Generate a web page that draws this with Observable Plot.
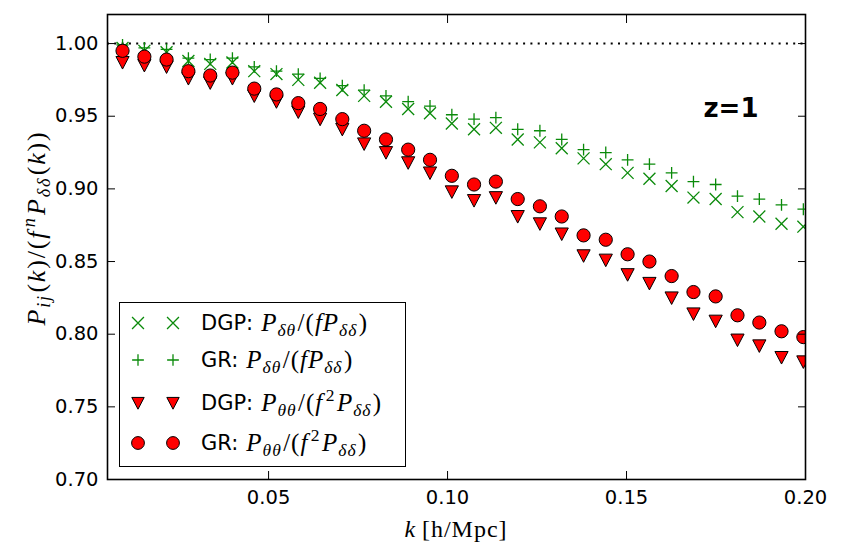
<!DOCTYPE html>
<html>
<head>
<meta charset="utf-8">
<script src="https://cdn.jsdelivr.net/npm/d3@7"></script>
<script src="https://cdn.jsdelivr.net/npm/@observablehq/plot@0.6"></script>
<style>
  body { margin: 0; background: #fff; }
  #wrap { position: relative; width: 843px; height: 559px; overflow: hidden; }
  .math { font-family: "Liberation Serif", "DejaVu Serif", serif; }
  .math sub, .math sup { font-size: 0.7em; line-height: 0; }
  .math sub { vertical-align: -0.3em; margin-right: 0.08em; }
  .math sup { vertical-align: 0.55em; margin-left: 0.14em; margin-right: 0.08em; }
  #ylabel { position: absolute; left: 37px; top: 228px; transform: translate(-50%, -50%) rotate(-90deg); white-space: nowrap; font-size: 26px; letter-spacing: 1.8px; }
  #xlabel { position: absolute; left: 456px; top: 529px; transform: translate(-50%, -50%); white-space: nowrap; font-size: 24px; letter-spacing: 1px; }
  #legend { position: absolute; left: 119px; top: 302px; width: 285px; height: 163px; border: 1.5px solid #000; background: #fff; box-sizing: content-box; }
  .row { position: absolute; left: 0; height: 30px; display: flex; align-items: center; white-space: nowrap; }
  .row svg { width: 72px; height: 30px; flex: none; }
  .row .name { font-family: "DejaVu Sans", sans-serif; font-size: 21px; margin-left: 9px; }
  .row .math { font-size: 25px; margin-left: 8px; letter-spacing: 1px; }
</style>
</head>
<body>
<div id="wrap"></div>
<script>
// Wavenumbers of the measured bins, k in h/Mpc
const k = [0.0092, 0.0153, 0.0215, 0.0276, 0.0337, 0.0399, 0.0460, 0.0522, 0.0583, 0.0644,
           0.0706, 0.0767, 0.0828, 0.0890, 0.0951, 0.1012, 0.1074, 0.1135, 0.1196, 0.1258,
           0.1319, 0.1380, 0.1442, 0.1503, 0.1564, 0.1626, 0.1687, 0.1749, 0.1810, 0.1871,
           0.1933, 0.1994];

// DGP: P_δθ / (f P_δδ)
const dgpDeltaTheta = [0.997, 0.995, 0.994, 0.988, 0.986, 0.987, 0.981, 0.979, 0.975, 0.973,
                       0.968, 0.964, 0.960, 0.955, 0.952, 0.945, 0.941, 0.942, 0.934, 0.932,
                       0.928, 0.921, 0.917, 0.911, 0.907, 0.902, 0.894, 0.893, 0.884, 0.881,
                       0.876, 0.874];
// GR: P_δθ / (f P_δδ)
const grDeltaTheta = [0.999, 0.997, 0.996, 0.990, 0.989, 0.990, 0.984, 0.981, 0.979, 0.976,
                      0.971, 0.968, 0.964, 0.960, 0.957, 0.951, 0.948, 0.949, 0.941, 0.940,
                      0.934, 0.927, 0.925, 0.920, 0.917, 0.911, 0.905, 0.903, 0.895, 0.893,
                      0.889, 0.886];
// DGP: P_θθ / (f² P_δδ)
const dgpThetaTheta = [0.987, 0.985, 0.984, 0.976, 0.973, 0.976, 0.964, 0.960, 0.953, 0.948,
                       0.941, 0.931, 0.925, 0.918, 0.911, 0.898, 0.892, 0.894, 0.881, 0.876,
                       0.869, 0.854, 0.851, 0.841, 0.835, 0.825, 0.814, 0.809, 0.796, 0.792,
                       0.784, 0.781];
// GR: P_θθ / (f² P_δδ)
const grThetaTheta = [0.995, 0.991, 0.989, 0.981, 0.978, 0.980, 0.969, 0.965, 0.959, 0.955,
                      0.948, 0.940, 0.934, 0.927, 0.920, 0.909, 0.903, 0.905, 0.893, 0.888,
                      0.881, 0.868, 0.865, 0.855, 0.850, 0.840, 0.829, 0.826, 0.813, 0.808,
                      0.802, 0.798];

const xTicks = [0.05, 0.10, 0.15, 0.20];
const yTicks = [0.70, 0.75, 0.80, 0.85, 0.90, 0.95, 1.00];
const unity = [1.0];

const green = "#0a8a0a";
const red = "#ff0000";

// Downward-pointing triangle, sized like Plot's own symbols (size = π r²)
const triangleDown = {
  draw(context, size) {
    const s = Math.sqrt(size / Math.PI);
    context.moveTo(0, s);
    context.lineTo(-s, -0.9 * s);
    context.lineTo(s, -0.9 * s);
    context.closePath();
  }
};

const rows = (values) => k.map((kk, i) => ({k: kk, v: values[i]}));

const font = {fontFamily: "DejaVu Sans, sans-serif", fontSize: 19.5};
const fmt = d3.format(".2f");

const chart = Plot.plot({
  width: 843,
  height: 559,
  marginLeft: 107,
  marginRight: 38,
  marginTop: 14,
  marginBottom: 80,
  style: {fontFamily: "DejaVu Sans, sans-serif", background: "#fff", color: "#000"},
  x: {domain: [0.005, 0.20]},
  y: {domain: [0.70, 1.02]},
  marks: [
    Plot.ruleY(unity, {stroke: "#000", strokeWidth: 2, strokeDasharray: "2,5.3"}),
    Plot.dot(rows(dgpDeltaTheta), {x: "k", y: "v", symbol: "times", r: 5.5, stroke: green, strokeWidth: 1.3, clip: true}),
    Plot.dot(rows(grDeltaTheta), {x: "k", y: "v", symbol: "plus", r: 3.9, stroke: green, strokeWidth: 1.3, clip: true}),
    Plot.dot(rows(dgpThetaTheta), {x: "k", y: "v", symbol: triangleDown, r: 6.6, fill: red, stroke: "#000", strokeWidth: 1, clip: true}),
    Plot.dot(rows(grThetaTheta), {x: "k", y: "v", symbol: "circle", r: 6.6, fill: red, stroke: "#000", strokeWidth: 1, clip: true}),
    Plot.text(["z=1"], {frameAnchor: "top-right", dx: -47, dy: 84, lineAnchor: "top", textAnchor: "end",
                        fontSize: 26, fontWeight: "bold", fontFamily: "DejaVu Sans, sans-serif", fill: "#000"}),
    // tick labels
    Plot.axisX(xTicks, {anchor: "bottom", tickSize: 0, tickPadding: 11, tickFormat: fmt, label: null, ...font}),
    Plot.axisY(yTicks, {anchor: "left", tickSize: 0, tickPadding: 9, tickFormat: fmt, label: null, ...font}),
    // inward ticks on all four sides
    Plot.axisX(xTicks, {anchor: "bottom", tickSize: 8, dy: -8, text: null, label: null, strokeWidth: 1}),
    Plot.axisX(xTicks, {anchor: "top", tickSize: 8, dy: 8, text: null, label: null, strokeWidth: 1}),
    Plot.axisY(yTicks, {anchor: "left", tickSize: 8, dx: 8, text: null, label: null, strokeWidth: 1}),
    Plot.axisY(yTicks, {anchor: "right", tickSize: 8, dx: -8, text: null, label: null, strokeWidth: 1}),
    Plot.frame({stroke: "#000", strokeWidth: 1.6})
  ]
});

const wrap = document.getElementById("wrap");
wrap.appendChild(chart);

// Axis titles
const ylab = document.createElement("div");
ylab.id = "ylabel";
ylab.className = "math";
ylab.innerHTML = "<i>P</i><sub><i>ij</i></sub>(<i>k</i>)/(<i>f</i><sup><i>n</i></sup><i>P</i><sub><i>δδ</i></sub>(<i>k</i>))";
wrap.appendChild(ylab);

const xlab = document.createElement("div");
xlab.id = "xlabel";
xlab.className = "math";
xlab.innerHTML = "<i>k</i>&#8201;[h/Mpc]";
wrap.appendChild(xlab);

// Legend
const legendEntries = [
  {name: "DGP:", math: "<i>P</i><sub><i>δθ</i></sub>/(<i>fP</i><sub><i>δδ</i></sub>)", symbol: d3.symbolTimes, size: 94, fill: "none", stroke: green, sw: 1.3, top: 5},
  {name: "GR:", math: "<i>P</i><sub><i>δθ</i></sub>/(<i>fP</i><sub><i>δδ</i></sub>)", symbol: d3.symbolPlus, size: 47, fill: "none", stroke: green, sw: 1.3, top: 42},
  {name: "DGP:", math: "<i>P</i><sub><i>θθ</i></sub>/(<i>f</i><sup>2</sup><i>P</i><sub><i>δδ</i></sub>)", symbol: triangleDown, size: Math.PI * 6.2 * 6.2, fill: red, stroke: "#000", sw: 1, top: 85},
  {name: "GR:", math: "<i>P</i><sub><i>θθ</i></sub>/(<i>f</i><sup>2</sup><i>P</i><sub><i>δδ</i></sub>)", symbol: d3.symbolCircle, size: Math.PI * 6.4 * 6.4, fill: red, stroke: "#000", sw: 1, top: 125}
];
const legend = document.createElement("div");
legend.id = "legend";
for (const e of legendEntries) {
  const row = document.createElement("div");
  row.className = "row";
  row.style.top = e.top + "px";
  const path = d3.symbol(e.symbol, e.size)();
  row.innerHTML =
    `<svg viewBox="0 0 72 30">` +
    `<path transform="translate(18,15)" d="${path}" fill="${e.fill}" stroke="${e.stroke}" stroke-width="${e.sw}"/>` +
    `<path transform="translate(53,15)" d="${path}" fill="${e.fill}" stroke="${e.stroke}" stroke-width="${e.sw}"/>` +
    `</svg><span class="name">${e.name}</span><span class="math">${e.math}</span>`;
  legend.appendChild(row);
}
wrap.appendChild(legend);
</script>
</body>
</html>
